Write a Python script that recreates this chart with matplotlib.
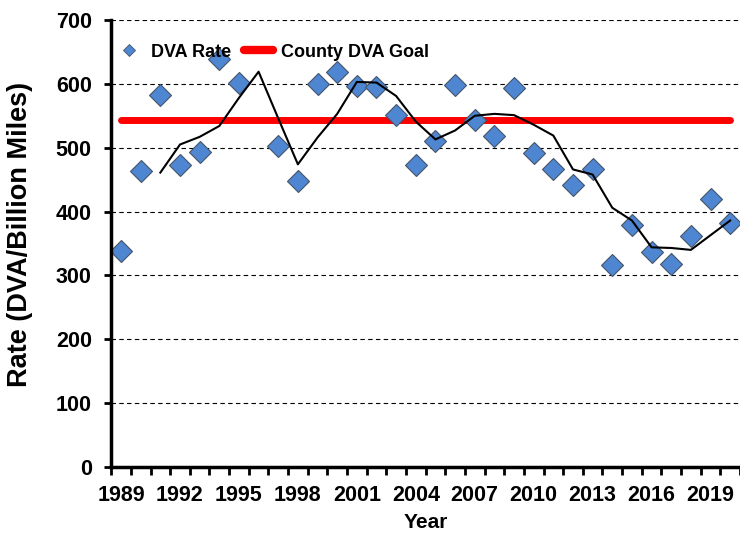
import numpy as np
import matplotlib
matplotlib.use('Agg')
import matplotlib.pyplot as plt
from matplotlib.lines import Line2D

plt.rcParams['font.family'] = ['Liberation Sans', 'DejaVu Sans']
plt.rcParams['font.weight'] = 'bold'

# DVA rate per year (1996 has no point on the chart)
years = list(range(1989, 2021))
dva_rate = [338, 463, 583, 473, 493, 639, 601, np.nan, 503, 448,
            600, 618, 596, 595, 552, 473, 511, 598, 544, 519,
            593, 492, 467, 442, 467, 317, 379, 336, 318, 361,
            419, 382]

# 3-year moving average line, starts 1991
avg_years = list(range(1991, 2021))
avg_rate = [461, 505, 517, 534, 578, 619, 546, 474, 516, 553,
            603, 602, 581, 541, 513, 527, 550, 553, 551, 536,
            519, 466, 458, 406, 386, 344, 343, 340, 363, 386]

goal_value = 543
goal = [goal_value] * len(years)

label_years = years[::3]
yticks = [0, 100, 200, 300, 400, 500, 600, 700]


def main():
    fig = plt.figure(figsize=(7.4, 5.33), dpi=100)
    ax = fig.add_axes([0.1503, 0.1238, 0.8497, 0.8387])

    ax.plot(years, goal, color='#ff0000', lw=5, solid_capstyle='round', zorder=2)
    ax.plot(years, dva_rate, ls='none', marker='D', ms=11.5,
            markerfacecolor='#4f86d1', markeredgecolor='#44546a',
            markeredgewidth=0.8, zorder=3, clip_on=False)
    ax.plot(avg_years, avg_rate, color='black', lw=1.5, zorder=4)

    ax.set_xlim(1988.5, 2020.5)
    ax.set_ylim(0, 700)

    ax.set_xticks(label_years)
    ax.set_xticklabels([str(y) for y in label_years])
    ax.set_xticks(np.arange(1988.5, 2021, 1), minor=True)
    ax.tick_params(axis='x', which='major', length=0, pad=13, labelsize=15.5)
    ax.tick_params(axis='x', which='minor', length=5.5, width=2, direction='out')

    ax.set_yticks(yticks)
    ax.tick_params(axis='y', length=5, width=2, direction='out', pad=9, labelsize=15.5)

    ax.yaxis.grid(True, linestyle=(0, (4, 3)), color='black', lw=0.8)
    ax.set_axisbelow(True)

    for s in ['top', 'right']:
        ax.spines[s].set_visible(False)
    for s in ['left', 'bottom']:
        ax.spines[s].set_linewidth(2.5)
        ax.spines[s].set_zorder(5)

    ax.set_xlabel('Year', fontsize=15, fontweight='bold', labelpad=5)
    ax.set_ylabel('Rate (DVA/Billion Miles)', fontsize=19.5, fontweight='bold')
    ax.yaxis.set_label_coords(-0.124, 0.521)

    handles = [
        Line2D([], [], ls='none', marker='D', ms=6, markerfacecolor='#4f86d1',
               markeredgecolor='#44546a', markeredgewidth=0.6),
        Line2D([], [], color='#ff0000', lw=6, solid_capstyle='round'),
    ]
    ax.legend(handles, ['DVA Rate', 'County DVA Goal'], loc='center left',
              bbox_to_anchor=(0.005, 0.928), ncol=2, frameon=False,
              fontsize=13, handlelength=1.6, handletextpad=0.45,
              columnspacing=0.7, borderpad=0, borderaxespad=0)

    fig.savefig('out.png', dpi=100)


if __name__ == '__main__':
    main()
